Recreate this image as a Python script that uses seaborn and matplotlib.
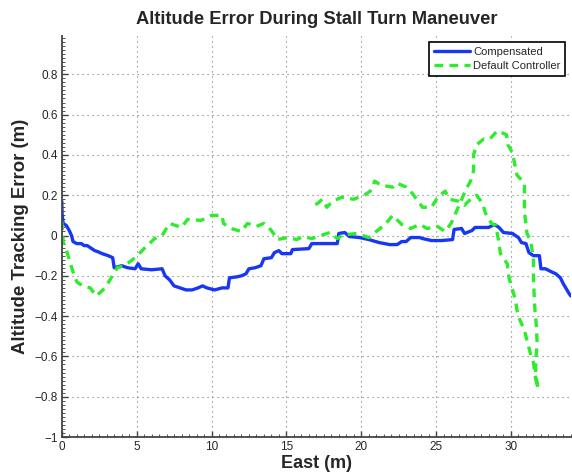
import matplotlib
matplotlib.use("Agg")
import matplotlib.pyplot as plt
import seaborn as sns
import pandas as pd
from matplotlib.ticker import AutoMinorLocator

# ---------------- data ----------------
comp_x = [0.0, 0.02, 0.09, 0.3, 0.5, 0.65, 0.75, 1.0, 1.3, 1.5, 1.7, 2.0, 2.2, 2.4, 2.7,
          3.1, 3.4, 3.5, 4.0, 4.4, 4.9, 5.1, 5.3, 6.0, 6.7, 6.9, 7.2, 7.5, 7.9, 8.3, 8.7,
          9.1, 9.4, 9.7, 10.2, 10.7, 11.1, 11.2, 11.7, 12.0, 12.3, 12.5, 12.9, 13.3, 13.5,
          14.0, 14.2, 14.5, 14.7, 15.3, 15.4, 16.5, 16.7, 17.7, 18.4, 18.5, 18.9, 19.2,
          19.9, 20.5, 21.2, 21.9, 22.4, 22.7, 23.0, 23.3, 23.9, 24.1, 24.7, 25.4, 26.1,
          26.2, 26.7, 26.9, 27.4, 27.6, 28.5, 28.9, 29.2, 29.5, 30.1, 30.5, 30.7, 31.0,
          31.2, 31.5, 31.9, 32.0, 32.3, 32.7, 33.0, 33.3, 33.5, 33.9, 34.0]
comp_y = [0.17, 0.11, 0.06, 0.05, 0.025, 0.0, -0.03, -0.04, -0.04, -0.05, -0.05, -0.065,
          -0.075, -0.08, -0.09, -0.10, -0.11, -0.16, -0.15, -0.16, -0.165, -0.14, -0.165,
          -0.17, -0.165, -0.20, -0.22, -0.25, -0.26, -0.27, -0.27, -0.26, -0.25, -0.26,
          -0.27, -0.26, -0.26, -0.21, -0.205, -0.20, -0.19, -0.165, -0.16, -0.15, -0.115,
          -0.11, -0.085, -0.075, -0.09, -0.09, -0.07, -0.065, -0.04, -0.04, -0.04, 0.01,
          0.015, -0.005, -0.01, -0.02, -0.035, -0.045, -0.045, -0.03, -0.03, -0.01, -0.01,
          -0.015, -0.025, -0.025, -0.02, 0.03, 0.035, 0.01, 0.025, 0.04, 0.04, 0.055, 0.04,
          0.015, 0.01, -0.01, -0.035, -0.04, -0.085, -0.10, -0.10, -0.165, -0.165, -0.18,
          -0.19, -0.21, -0.24, -0.29, -0.30]

default_x = [0.0, 0.1, 0.3, 0.5, 0.75, 1.0, 1.4, 1.9, 2.3, 2.9, 3.3, 3.7, 4.2, 4.9, 5.5,
             6.2, 6.7, 7.2, 8.0, 8.4, 9.3, 10.0, 10.7, 10.8, 11.3, 12.0, 12.4, 13.0, 13.5,
             14.0, 14.4, 15.1, 15.7, 16.1, 16.7, 17.3, 17.9, 18.4, 18.7, 19.0, 19.7, 20.5,
             21.0, 21.6, 22.1, 22.7, 23.3, 23.9, 24.4, 25.1, 25.6, 26.0, 26.3, 27.0, 27.3,
             27.5, 27.5, 27.7, 28.2, 28.6, 29.1, 29.7, 29.8, 30.1, 30.4, 30.9, 30.9, 31.07,
             31.3, 31.5, 31.5, 31.6, 31.7, 31.75, 31.65, 31.65, 31.8,
             31.6, 31.5, 31.3, 31.1, 30.9, 30.6, 30.4, 30.3, 30.1, 29.87, 29.75, 29.3, 29.2,
             29.0, 28.7, 28.3, 28.1, 27.7, 27.3, 26.9, 26.5, 25.9, 25.6, 25.1, 24.7, 24.1,
             23.7, 23.3, 23.0, 22.4, 22.1, 21.3, 20.9, 20.6, 20.2, 19.5, 18.7, 18.1, 17.7,
             17.4, 17.1, 16.6]
default_y = [0.07, -0.035, -0.07, -0.12, -0.18, -0.23, -0.25, -0.26, -0.30, -0.26, -0.21,
             -0.16, -0.15, -0.11, -0.065, -0.015, 0.0, 0.06, 0.04, 0.08, 0.075, 0.10, 0.10,
             0.06, 0.035, 0.02, 0.06, 0.045, 0.06, 0.025, -0.02, -0.01, -0.02, -0.005, -0.015,
             0.0, 0.015, -0.015, 0.0, 0.005, 0.01, -0.01, 0.02, 0.055, 0.10, 0.055, 0.035,
             0.055, 0.035, 0.045, 0.02, 0.06, 0.11, 0.23, 0.27, 0.32, 0.40, 0.45, 0.48, 0.48,
             0.52, 0.50, 0.45, 0.41, 0.30, 0.26, 0.12, 0.01, -0.025, -0.11, -0.22, -0.37,
             -0.45, -0.54, -0.62, -0.69, -0.76,
             -0.69, -0.63, -0.585, -0.53, -0.47, -0.42, -0.37, -0.32, -0.27, -0.21, -0.14,
             -0.09, -0.04, 0.05, 0.06, 0.11, 0.16, 0.20, 0.18, 0.15, 0.17, 0.18, 0.22, 0.19,
             0.14, 0.14, 0.18, 0.22, 0.24, 0.26, 0.24, 0.25, 0.27, 0.22, 0.20, 0.18, 0.19,
             0.17, 0.14, 0.18, 0.16, 0.14]

x_ticks = [0, 5, 10, 15, 20, 25, 30]
y_ticks = [-1, -0.8, -0.6, -0.4, -0.2, 0, 0.2, 0.4, 0.6, 0.8]
y_tick_labels = ["\u22121", "\u22120.8", "\u22120.6", "\u22120.4", "\u22120.2", "0",
                 "0.2", "0.4", "0.6", "0.8"]

# ---------------- style ----------------
sns.set_style("ticks")
plt.rcParams['font.family'] = ['Liberation Sans', 'DejaVu Sans']

fig = plt.figure(figsize=(5.72, 4.74), dpi=100)
ax = fig.add_axes([0.108, 0.078, 0.890, 0.846])

comp_df = pd.DataFrame({"x": comp_x, "y": comp_y})
def_df = pd.DataFrame({"x": default_x, "y": default_y})

sns.lineplot(data=comp_df, x="x", y="y", sort=False, estimator=None, ax=ax,
             color="#1737f5", linewidth=2.4, label="Compensated")
sns.lineplot(data=def_df, x="x", y="y", sort=False, estimator=None, ax=ax,
             color="#2cec2c", linewidth=2.4, linestyle=(0, (2.6, 1.9)),
             label="Default Controller")

ax.set_xlim(0, 34)
ax.set_ylim(-1, 0.99)
ax.set_xticks(x_ticks)
ax.set_xticklabels([str(t) for t in x_ticks])
ax.set_yticks(y_ticks)
ax.set_yticklabels(y_tick_labels)
ax.xaxis.set_minor_locator(AutoMinorLocator(10))
ax.yaxis.set_minor_locator(AutoMinorLocator(10))

ax.grid(True, which="major", linestyle=(0, (1, 3.5)), color="#777777", linewidth=0.8)
ax.set_axisbelow(True)

for s in ["top", "right"]:
    ax.spines[s].set_visible(False)
for s in ["left", "bottom"]:
    ax.spines[s].set_color("#444444")
    ax.spines[s].set_linewidth(1.3)

ax.tick_params(axis="both", which="major", direction="in", length=4, width=1,
               color="#444444", labelsize=8.5, pad=3)
ax.tick_params(axis="both", which="minor", direction="in", length=2, width=0.7,
               color="#555555")

ax.set_title("Altitude Error During Stall Turn Maneuver", fontsize=13.2,
             fontweight="bold", pad=9)
ax.set_xlabel("East (m)", fontsize=13, fontweight="bold", labelpad=1)
ax.set_ylabel("Altitude Tracking Error (m)", fontsize=13.4, fontweight="bold", labelpad=4)

leg = ax.legend(loc="upper right", fontsize=8, frameon=True, fancybox=False,
                edgecolor="black", framealpha=1, borderpad=0.45, labelspacing=0.4,
                handlelength=3.2, handletextpad=0.3, borderaxespad=0.5)
leg.get_frame().set_linewidth(1.2)

fig.savefig("out.png", dpi=100)
